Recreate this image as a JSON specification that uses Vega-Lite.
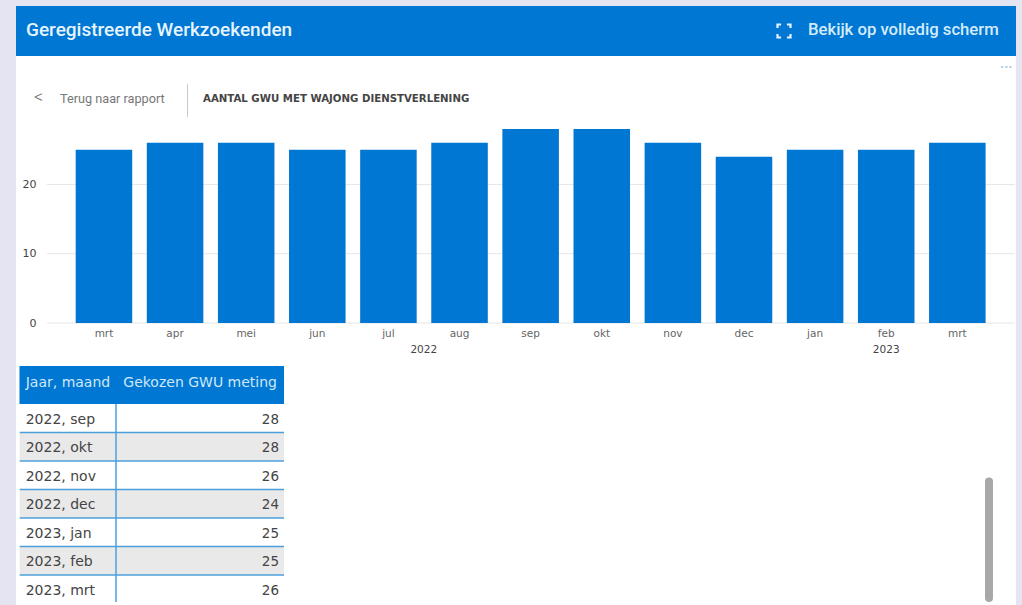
{
"$schema":"https://vega.github.io/schema/vega-lite/v6.json",
"background":"#e4e4f2",
"padding":{"left":16,"top":6,"right":6,"bottom":0},
"bounds":"flush",
"spacing":0,
"config":{"view":{"stroke":null},"font":"DejaVu Sans"},
"datasets":{
"months":[
{"key":"2022 mrt","val":25},{"key":"2022 apr","val":26},{"key":"2022 mei","val":26},{"key":"2022 jun","val":25},{"key":"2022 jul","val":25},{"key":"2022 aug","val":26},{"key":"2022 sep","val":28},{"key":"2022 okt","val":28},{"key":"2022 nov","val":26},{"key":"2022 dec","val":24},{"key":"2023 jan","val":25},{"key":"2023 feb","val":25},{"key":"2023 mrt","val":26}],
"rows":[
{"maand":"2022, sep","val":28},{"maand":"2022, okt","val":28},{"maand":"2022, nov","val":26},{"maand":"2022, dec","val":24},{"maand":"2023, jan","val":25},{"maand":"2023, feb","val":25},{"maand":"2023, mrt","val":26}]
},
"vconcat":[
{"width":1000,"height":50,"view":{"fill":"#0077D3","stroke":null},
 "data":{"values":[{"slot":0,"label":"Geregistreerde Werkzoekenden"},{"slot":1,"label":"Bekijk op volledig scherm"},{"slot":2,"label":""}]},
 "layer":[
 {"transform":[{"filter":"datum.slot==0"}],
  "mark":{"type":"text","align":"left","baseline":"middle","font":"Roboto","fontWeight":500,"fontSize":19,"color":"#e6f4ff","dy":-1.5},
  "encoding":{"x":{"field":"slot","type":"quantitative","axis":null,"scale":{"domain":[0,1,2],"range":[10,792,768]}},"text":{"field":"label"}}},
 {"transform":[{"filter":"datum.slot==1"}],
  "mark":{"type":"text","align":"left","baseline":"middle","font":"Roboto","fontWeight":500,"fontSize":16.7,"color":"#d4ebfb","dy":-1.5},
  "encoding":{"x":{"field":"slot","type":"quantitative","axis":null,"scale":{"domain":[0,1,2],"range":[10,792,768]}},"text":{"field":"label"}}},
 {"transform":[{"filter":"datum.slot==2"}],
  "mark":{"type":"point","shape":"M-1,-0.45V-1H-0.45M0.45,-1H1V-0.45M1,0.45V1H0.45M-0.45,1H-1V0.45","filled":false,"size":170,"strokeWidth":2.2,"color":"#e6f4ff","opacity":1,"dy":-2},
  "encoding":{"x":{"field":"slot","type":"quantitative","axis":null,"scale":{"domain":[0,1,2],"range":[10,792,768]}}}}
 ]},
{"width":1000,"height":62,"view":{"fill":"#ffffff","stroke":null},
 "data":{"values":[{"slot":0,"label":"<"},{"slot":1,"label":"Terug naar rapport"},{"slot":2,"label":""},{"slot":3,"label":"AANTAL GWU MET WAJONG DIENSTVERLENING"},{"slot":4,"label":"···"}]},
 "layer":[
 {"transform":[{"filter":"datum.slot==2"}],
  "mark":{"type":"rule","color":"#c8c8c8","strokeWidth":1},
  "encoding":{"x":{"field":"slot","type":"quantitative","axis":null,"scale":{"domain":[0,1,2,3,4],"range":[18,44,171.5,187,984]}},"y":{"datum":0,"type":"quantitative","axis":null,"scale":{"domain":[0,1],"range":[28,61]}},"y2":{"datum":1}}},
 {"transform":[{"filter":"datum.slot==0"}],
  "mark":{"type":"text","align":"left","baseline":"middle","font":"Roboto","fontWeight":300,"fontSize":18,"color":"#777777","dy":11},
  "encoding":{"x":{"field":"slot","type":"quantitative","axis":null,"scale":{"domain":[0,1,2,3,4],"range":[18,44,171.5,187,984]}},"text":{"field":"label"}}},
 {"transform":[{"filter":"datum.slot==1"}],
  "mark":{"type":"text","align":"left","baseline":"middle","font":"Roboto","fontSize":12.7,"color":"#777777","dy":12},
  "encoding":{"x":{"field":"slot","type":"quantitative","axis":null,"scale":{"domain":[0,1,2,3,4],"range":[18,44,171.5,187,984]}},"text":{"field":"label"}}},
 {"transform":[{"filter":"datum.slot==3"}],
  "mark":{"type":"text","align":"left","baseline":"middle","font":"DejaVu Sans","fontWeight":"bold","fontSize":10.2,"color":"#444444","dy":11.5},
  "encoding":{"x":{"field":"slot","type":"quantitative","axis":null,"scale":{"domain":[0,1,2,3,4],"range":[18,44,171.5,187,984]}},"text":{"field":"label"}}},
 {"transform":[{"filter":"datum.slot==4"}],
  "mark":{"type":"text","align":"left","baseline":"middle","font":"DejaVu Sans","fontWeight":"bold","fontSize":11,"color":"#a9cdea","dy":-19},
  "encoding":{"x":{"field":"slot","type":"quantitative","axis":null,"scale":{"domain":[0,1,2,3,4],"range":[18,44,171.5,187,984]}},"text":{"field":"label"}}}
 ],
 "resolve":{"scale":{"y":"independent"}}},
{"width":1000,"height":248,"view":{"fill":"#ffffff","stroke":null},
 "layer":[
 {"data":{"values":[{"tick":0},{"tick":10},{"tick":20}]},
  "mark":{"type":"rule","color":"#e6e6e6","strokeWidth":1},
  "encoding":{"y":{"field":"tick","type":"quantitative","title":null,"scale":{"domain":[0,28],"range":[205,11]},"axis":{"values":[0,10,20],"title":null,"grid":false,"domain":false,"ticks":false,"offset":-20,"labelPadding":0,"labelColor":"#444444","labelFont":"DejaVu Sans","labelFontSize":11}},
   "x":{"datum":0,"type":"quantitative","axis":null,"scale":{"domain":[0,1],"range":[31,999]}},"x2":{"datum":1}}},
 {"data":{"name":"months"},
  "mark":{"type":"bar","color":"#0077D3"},
  "encoding":{"x":{"field":"key","type":"nominal","sort":null,"title":null,
    "scale":{"type":"band","domain":["2022 mrt","2022 apr","2022 mei","2022 jun","2022 jul","2022 aug","2022 sep","2022 okt","2022 nov","2022 dec","2023 jan","2023 feb","2023 mrt"],"range":[52.4,976.9],"paddingInner":0.205,"paddingOuter":0.1025},
    "axis":{"domain":false,"ticks":false,"grid":false,"offset":-43,"labelAngle":0,"labelPadding":5,"labelColor":"#666666","labelFont":"DejaVu Sans","labelFontSize":10.5,"labelExpr":"split(datum.value,' ')[1]"}},
   "y":{"field":"val","type":"quantitative","title":null,"scale":{"domain":[0,28],"range":[205,11]}}}},
 {"data":{"values":[{"key":"2022 jul","year":"2022"}]},
  "mark":{"type":"text","baseline":"middle","dy":27,"fontSize":10.5,"color":"#444444"},
  "encoding":{"x":{"field":"key","type":"nominal","bandPosition":1.125,"axis":null,
    "scale":{"type":"band","domain":["2022 mrt","2022 apr","2022 mei","2022 jun","2022 jul","2022 aug","2022 sep","2022 okt","2022 nov","2022 dec","2023 jan","2023 feb","2023 mrt"],"range":[52.4,976.9],"paddingInner":0.205,"paddingOuter":0.1025}},
   "y":{"datum":0,"type":"quantitative","title":null,"scale":{"domain":[0,28],"range":[205,11]}},
   "text":{"field":"year"}}},
 {"data":{"values":[{"key":"2023 feb","year":"2023"}]},
  "mark":{"type":"text","baseline":"middle","dy":27,"fontSize":10.5,"color":"#444444"},
  "encoding":{"x":{"field":"key","type":"nominal","bandPosition":0.5,"axis":null,
    "scale":{"type":"band","domain":["2022 mrt","2022 apr","2022 mei","2022 jun","2022 jul","2022 aug","2022 sep","2022 okt","2022 nov","2022 dec","2023 jan","2023 feb","2023 mrt"],"range":[52.4,976.9],"paddingInner":0.205,"paddingOuter":0.1025}},
   "y":{"datum":0,"type":"quantitative","title":null,"scale":{"domain":[0,28],"range":[205,11]}},
   "text":{"field":"year"}}}
 ],
 "resolve":{"scale":{"x":"independent"}}},
{"width":1000,"height":38,"view":{"fill":"#ffffff","stroke":null},
 "data":{"values":[{"col":0,"label":"Jaar, maand"},{"col":2,"label":"Gekozen GWU meting"}]},
 "layer":[
 {"mark":{"type":"rect","color":"#0077D3"},
  "encoding":{"x":{"datum":0,"type":"quantitative","axis":null,"scale":{"domain":[0,1,2,3],"range":[3.7,100,268,973]}},"x2":{"datum":2}}},
 {"transform":[{"filter":"datum.col==0"}],
  "mark":{"type":"text","align":"left","baseline":"middle","fontSize":14,"color":"#cfe7f9","dx":6,"dy":-2},
  "encoding":{"x":{"field":"col","type":"quantitative","axis":null,"scale":{"domain":[0,1,2,3],"range":[3.7,100,268,973]}},"text":{"field":"label"}}},
 {"transform":[{"filter":"datum.col==2"}],
  "mark":{"type":"text","align":"right","baseline":"middle","fontSize":14,"color":"#cfe7f9","dx":-7,"dy":-2},
  "encoding":{"x":{"field":"col","type":"quantitative","axis":null,"scale":{"domain":[0,1,2,3],"range":[3.7,100,268,973]}},"text":{"field":"label"}}}
 ]},
{"width":1000,"height":201,"view":{"fill":"#ffffff","stroke":null},
 "data":{"name":"rows"},
 "layer":[
 {"layer":[
  {"transform":[{"filter":{"field":"maand","oneOf":["2022, okt","2022, dec","2023, feb"]}}],
   "mark":{"type":"rect","color":"#e9e9e9"},
   "encoding":{"y":{"field":"maand","type":"nominal","sort":null,"axis":null,"scale":{"type":"band","domain":["2022, sep","2022, okt","2022, nov","2022, dec","2023, jan","2023, feb","2023, mrt"],"range":[0,199.5],"paddingInner":0,"paddingOuter":0}},
    "x":{"datum":0,"type":"quantitative","axis":null,"scale":{"domain":[0,1,2,3],"range":[3.7,100,268,973]}},"x2":{"datum":2}}},
  {"transform":[{"filter":{"field":"maand","oneOf":["2022, sep","2022, okt","2022, nov","2022, dec","2023, jan","2023, feb"]}}],
   "mark":{"type":"rule","color":"#4c9fdc","strokeWidth":1.5},
   "encoding":{"y":{"field":"maand","type":"nominal","sort":null,"bandPosition":1,"axis":null,"scale":{"type":"band","domain":["2022, sep","2022, okt","2022, nov","2022, dec","2023, jan","2023, feb","2023, mrt"],"range":[0,199.5],"paddingInner":0,"paddingOuter":0}},
    "x":{"datum":0,"type":"quantitative","axis":null,"scale":{"domain":[0,1,2,3],"range":[3.7,100,268,973]}},"x2":{"datum":2}}},
  {"mark":{"type":"text","align":"left","baseline":"middle","fontSize":14,"color":"#444444","dx":6,"dy":1.5},
   "encoding":{"y":{"field":"maand","type":"nominal","sort":null,"axis":null,"scale":{"type":"band","domain":["2022, sep","2022, okt","2022, nov","2022, dec","2023, jan","2023, feb","2023, mrt"],"range":[0,199.5],"paddingInner":0,"paddingOuter":0}},
    "x":{"datum":0,"type":"quantitative","axis":null,"scale":{"domain":[0,1,2,3],"range":[3.7,100,268,973]}},"text":{"field":"maand"}}},
  {"mark":{"type":"text","align":"right","baseline":"middle","fontSize":13.5,"color":"#444444","dx":-5,"dy":1.5},
   "encoding":{"y":{"field":"maand","type":"nominal","sort":null,"axis":null,"scale":{"type":"band","domain":["2022, sep","2022, okt","2022, nov","2022, dec","2023, jan","2023, feb","2023, mrt"],"range":[0,199.5],"paddingInner":0,"paddingOuter":0}},
    "x":{"datum":2,"type":"quantitative","axis":null,"scale":{"domain":[0,1,2,3],"range":[3.7,100,268,973]}},"text":{"field":"val"}}}
 ]},
 {"layer":[
  {"data":{"values":[{"from":0,"to":1}]},
   "mark":{"type":"rule","color":"#4c9fdc","strokeWidth":1.5},
   "encoding":{"x":{"datum":1,"type":"quantitative","axis":null,"scale":{"domain":[0,1,2,3],"range":[3.7,100,268,973]}},
    "y":{"field":"from","type":"quantitative","axis":null,"scale":{"domain":[0,1],"range":[0,201]}},"y2":{"datum":0.985}}},
  {"data":{"values":[{"from":0.385,"to":0.965}]},
   "mark":{"type":"rule","color":"#a8a8a8","strokeWidth":8,"strokeCap":"round"},
   "encoding":{"x":{"datum":3,"type":"quantitative","axis":null,"scale":{"domain":[0,1,2,3],"range":[3.7,100,268,973]}},
    "y":{"field":"from","type":"quantitative","axis":null,"scale":{"domain":[0,1],"range":[0,201]}},"y2":{"field":"to"}}}
 ]}
 ],
 "resolve":{"scale":{"y":"independent"}}}
]
}
